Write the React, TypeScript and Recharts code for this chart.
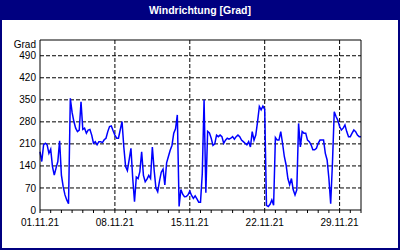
import { LineChart, Line, XAxis, YAxis, CartesianGrid, ReferenceLine } from 'recharts'

// wind direction in degrees, one reading every 4 hours from 01.11.21 00:00
const WIND_DIR = [
    185, 154, 207, 212, 207, 180, 193, 138, 111, 133, 154, 220, 111, 74, 48, 32, 20, 355, 310, 281,
    260, 249, 254, 344, 256, 260, 244, 254, 256, 238, 212, 217, 207, 217, 217, 214, 223, 228, 249, 265,
    267, 252, 238, 228, 228, 255, 281, 200, 138, 125, 160, 196, 100, 26, 105, 100, 122, 185, 110, 90,
    98, 110, 100, 200, 127, 70, 58, 92, 120, 130, 80, 150, 170, 190, 205, 244, 258, 302, 11, 65,
    50, 42, 43, 48, 60, 46, 37, 45, 35, 25, 25, 116, 350, 55, 250, 245, 228, 205, 210, 238,
    233, 238, 233, 212, 222, 228, 225, 228, 233, 225, 233, 238, 233, 222, 217, 212, 207, 217, 200, 249,
    222, 238, 281, 329, 318, 330, 320, 15, 11, 18, 32, 15, 230, 222, 222, 249, 212, 170, 143, 100,
    80, 100, 64, 48, 64, 275, 200, 249, 244, 244, 222, 217, 207, 191, 191, 196, 212, 222, 222, 222,
    180, 159, 100, 20, 150, 312, 297, 285, 265, 254, 260, 270, 249, 233, 233, 244, 254, 249, 238, 233,
    233
]
const READINGS_PER_DAY = 6

const DAY_TICKS = [0, 1, 2, 3, 4, 5, 6, 7, 8, 9, 10, 11, 12, 13, 14, 15, 16, 17, 18, 19, 20, 21, 22, 23, 24, 25, 26, 27, 28, 29, 30]
const DATE_DAYS = [0, 7, 14, 21, 28]
const DATE_LABELS = ['01.11.21', '08.11.21', '15.11.21', '22.11.21', '29.11.21']

const GRAD_TICKS = [0, 70, 140, 210, 280, 350, 420, 490]
const DIR_TICKS = [0, 45, 90, 135, 180, 225, 270, 315, 360, 405, 450, 495, 540]
const DIR_LABELS = ['N', 'NE', 'E', 'SE', 'S', 'SW', 'W', 'NW', 'N', 'NE', 'E', 'SE', 'S']

const NAVY = '#000080'
const FONT = '"Liberation Sans", Arial, sans-serif'

const data = WIND_DIR.map((v, i) => ({ t: i / READINGS_PER_DAY, v }))

const tickStyle = { fill: '#000', fontSize: 10, fontFamily: FONT }

export default function App() {
    return (
        <div
            style={{
                position: 'fixed',
                left: 0,
                top: 0,
                width: 400,
                height: 250,
                boxSizing: 'border-box',
                border: `2px solid ${NAVY}`,
                background: '#fff',
                fontFamily: FONT
            }}
        >
            <div
                style={{
                    height: 18,
                    lineHeight: '17px',
                    background: NAVY,
                    color: '#fff',
                    fontWeight: 'bold',
                    fontSize: 10.5,
                    textAlign: 'center'
                }}
            >
                Windrichtung [Grad]
            </div>
            <LineChart width={396} height={228} data={data} margin={{ top: 20, right: 0, left: 0, bottom: 0 }}>
                <CartesianGrid
                    yAxisId="grad"
                    stroke="#000"
                    strokeDasharray="4 2"
                    verticalValues={DATE_DAYS.slice(1)}
                    horizontalValues={GRAD_TICKS.slice(1)}
                />
                <XAxis
                    dataKey="t"
                    type="number"
                    domain={[0, 30]}
                    ticks={DAY_TICKS}
                    interval={0}
                    height={38}
                    tickSize={3}
                    tickMargin={6}
                    stroke="#000"
                    tick={tickStyle}
                    tickFormatter={(d) => {
                        const k = DATE_DAYS.indexOf(d)
                        return k >= 0 ? DATE_LABELS[k] : ''
                    }}
                />
                <YAxis
                    yAxisId="grad"
                    type="number"
                    domain={[0, 540]}
                    ticks={GRAD_TICKS}
                    interval={0}
                    width={38}
                    tickLine={false}
                    tickSize={2}
                    tickMargin={2}
                    stroke="#000"
                    tick={tickStyle}
                    label={(p: any) => (
                        <text
                            x={p.viewBox.x + p.viewBox.width - 4}
                            y={p.viewBox.y + 8}
                            textAnchor="end"
                            fontSize={10}
                            fontFamily={FONT}
                            fill="#000"
                        >
                            Grad
                        </text>
                    )}
                />
                <YAxis
                    yAxisId="dir"
                    orientation="right"
                    type="number"
                    domain={[0, 540]}
                    ticks={DIR_TICKS}
                    interval={0}
                    width={37}
                    tickSize={3}
                    tickMargin={2}
                    stroke="#000"
                    tick={tickStyle}
                    tickFormatter={(v) => DIR_LABELS[DIR_TICKS.indexOf(v)]}
                />
                <ReferenceLine yAxisId="grad" y={540} stroke="#000" strokeWidth={1} />
                <Line
                    yAxisId="grad"
                    type="linear"
                    dataKey="v"
                    stroke="#0000ff"
                    strokeWidth={1.5}
                    dot={false}
                    isAnimationActive={false}
                />
            </LineChart>
        </div>
    )
}
